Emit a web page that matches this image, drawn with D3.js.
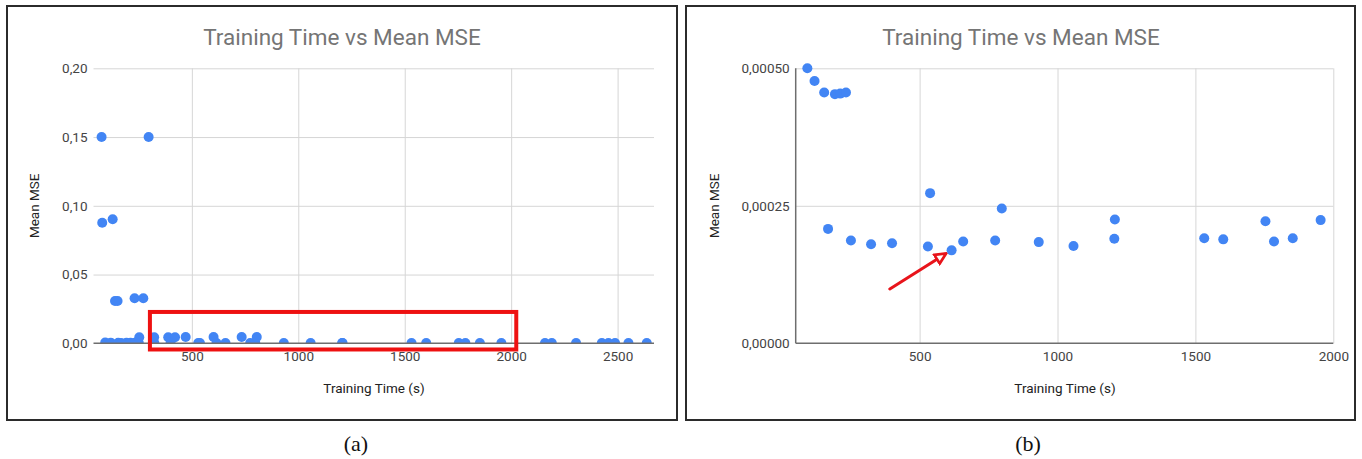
<!DOCTYPE html>
<html>
<head>
<meta charset="utf-8">
<script src="https://cdn.jsdelivr.net/npm/d3@7"></script>
<style>
  html, body { margin: 0; padding: 0; background: #fff; }
  svg { display: block; }
</style>
</head>
<body>
<svg id="chart" width="1362" height="459"></svg>
<script>
// ---- Data ----
// Panel (b): zoomed view, points with Mean MSE < 0.0005
const timeB = [93, 119, 154, 193, 212, 233, 168, 251, 324, 400, 530, 538, 616, 658, 774, 798,
               932, 1058, 1208, 1206, 1532, 1601, 1754, 1785, 1853, 1954];
const mseB  = [0.000500, 0.000477, 0.000456, 0.000453, 0.000454, 0.000456, 0.000208, 0.000187,
               0.000180, 0.000182, 0.000176, 0.000273, 0.000169, 0.000185, 0.000187, 0.000245,
               0.000184, 0.000177, 0.000225, 0.000190, 0.000191, 0.000189, 0.000222, 0.000185,
               0.000191, 0.000224];
// Panel (a): extra points beyond the zoomed range
const timeAExtra = [76, 297, 79, 128, 139, 151, 231, 272,
                    253, 323, 389, 421, 471, 602, 734, 805,
                    2159, 2191, 2305, 2426, 2457, 2488, 2551, 2637];
const mseAExtra  = [0.150, 0.150, 0.0877, 0.0902, 0.0308, 0.0308, 0.0327, 0.0327,
                    0.0044, 0.0044, 0.0044, 0.0044, 0.0046, 0.0046, 0.0046, 0.0046,
                    0.0002, 0.0002, 0.0002, 0.0002, 0.0002, 0.0002, 0.0002, 0.0002];

const xTicksA = [500, 1000, 1500, 2000, 2500];
const yTicksA = [0, 0.05, 0.10, 0.15, 0.20];
const xTicksB = [500, 1000, 1500, 2000];
const yTicksB = [0, 0.00025, 0.0005];

const titleText = "Training Time vs Mean MSE";
const xLabel = "Training Time (s)";
const yLabel = "Mean MSE";
const captions = ["(a)", "(b)"];

// Annotations (in data units)
const boxA = { x0: 303, x1: 2024, y0: -0.0045, y1: 0.0228 };
const arrowB = { x0: 392, y0: 0.0000987, x1: 592, y1: 0.000162 };

// ---- Drawing ----
const svg = d3.select("#chart");
const blue = "#4285f4";
const sans = "Roboto, 'Noto Sans', Arial, sans-serif";

const panels = [
  {
    frame: { x: 7, y: 6, w: 670, h: 414 },
    plot: { left: 93.5, right: 654, top: 68.3, bottom: 343.3 },
    xDomain: [38, 2671], yDomain: [0, 0.20],
    xTicks: xTicksA, yTicks: yTicksA, yDec: 2,
    times: timeB.concat(timeAExtra), mses: mseB.concat(mseAExtra),
    leftAxis: false,
    titleX: 342, xLabelX: 374, yLabelX: 34, caption: captions[0], captionX: 356
  },
  {
    frame: { x: 686, y: 6, w: 669, h: 414 },
    plot: { left: 795.7, right: 1333.3, top: 68.3, bottom: 343.3 },
    xDomain: [50.7, 2000], yDomain: [0, 0.0005],
    xTicks: xTicksB, yTicks: yTicksB, yDec: 5,
    times: timeB, mses: mseB,
    leftAxis: true,
    titleX: 1021, xLabelX: 1065, yLabelX: 714, caption: captions[1], captionX: 1028
  }
];

const defs = svg.append("defs");
defs.append("marker")
  .attr("id", "arrowhead")
  .attr("viewBox", "0 0 10 10")
  .attr("refX", 8).attr("refY", 5)
  .attr("markerWidth", 4.5).attr("markerHeight", 4.5)
  .attr("orient", "auto")
  .append("path")
  .attr("d", "M1,1.2 L9,5 L1,8.8 Z")
  .attr("fill", "#fff")
  .attr("stroke", "#e8141b")
  .attr("stroke-width", 2);

panels.forEach((p, i) => {
  const g = svg.append("g");
  const x = d3.scaleLinear().domain(p.xDomain).range([p.plot.left, p.plot.right]);
  const y = d3.scaleLinear().domain(p.yDomain).range([p.plot.bottom, p.plot.top]);
  const fmt = v => d3.format("." + p.yDec + "f")(v).replace(".", ",");

  // frame
  g.append("rect")
    .attr("x", p.frame.x).attr("y", p.frame.y)
    .attr("width", p.frame.w).attr("height", p.frame.h)
    .attr("fill", "#fff").attr("stroke", "#2b2b2b").attr("stroke-width", 2);

  // title
  g.append("text")
    .attr("x", p.titleX).attr("y", 45)
    .attr("text-anchor", "middle")
    .style("font-family", sans)
    .attr("font-size", 22.5).attr("fill", "#757575")
    .text(titleText);

  // horizontal gridlines
  g.append("g")
    .attr("transform", `translate(${p.plot.left},0)`)
    .call(d3.axisLeft(y).tickValues(p.yTicks.filter(v => v !== 0))
      .tickSize(-(p.plot.right - p.plot.left)).tickFormat(""))
    .call(a => a.select(".domain").remove())
    .call(a => a.selectAll("line").attr("stroke", "#d6d6d6").attr("stroke-width", 1));

  // vertical gridlines
  g.append("g")
    .attr("transform", `translate(0,${p.plot.bottom})`)
    .call(d3.axisBottom(x).tickValues(p.xTicks)
      .tickSize(-(p.plot.bottom - p.plot.top)).tickFormat(""))
    .call(a => a.select(".domain").remove())
    .call(a => a.selectAll("line").attr("stroke", "#d6d6d6").attr("stroke-width", 1));

  // x tick labels
  g.append("g")
    .attr("transform", `translate(0,${p.plot.bottom})`)
    .call(d3.axisBottom(x).tickValues(p.xTicks).tickSize(0).tickPadding(8).tickFormat(d3.format("d")))
    .call(a => a.select(".domain").remove())
    .call(a => a.selectAll("text").attr("font-size", 13.5).attr("fill", "#444")
      .style("font-family", sans));

  // y tick labels
  g.append("g")
    .attr("transform", `translate(${p.plot.left},0)`)
    .call(d3.axisLeft(y).tickValues(p.yTicks).tickSize(0).tickPadding(6).tickFormat(fmt))
    .call(a => a.select(".domain").remove())
    .call(a => a.selectAll("text").attr("font-size", 13.5).attr("fill", "#444")
      .style("font-family", sans));

  // points (clipped to plot area)
  const clipId = "clip" + i;
  defs.append("clipPath").attr("id", clipId)
    .append("rect")
    .attr("x", p.plot.left - 6).attr("y", p.plot.top - 6)
    .attr("width", p.plot.right - p.plot.left + 12)
    .attr("height", p.plot.bottom - p.plot.top + 6);

  const pts = p.times.map((t, k) => ({ t, m: p.mses[k] }));
  g.append("g").attr("clip-path", `url(#${clipId})`)
    .selectAll("circle").data(pts).join("circle")
    .attr("cx", d => x(d.t)).attr("cy", d => y(d.m))
    .attr("r", 5).attr("fill", blue);

  // baseline axis
  g.append("line")
    .attr("x1", p.plot.left).attr("x2", p.plot.right)
    .attr("y1", p.plot.bottom).attr("y2", p.plot.bottom)
    .attr("stroke", "#6e6e6e").attr("stroke-width", 1.5);
  if (p.leftAxis) {
    g.append("line")
      .attr("x1", p.plot.left).attr("x2", p.plot.left)
      .attr("y1", p.plot.top).attr("y2", p.plot.bottom)
      .attr("stroke", "#6e6e6e").attr("stroke-width", 1.5);
  }

  // axis titles
  g.append("text")
    .attr("x", p.xLabelX).attr("y", 393)
    .attr("text-anchor", "middle").attr("font-size", 13.5).attr("fill", "#222")
    .style("font-family", sans)
    .text(xLabel);
  g.append("text")
    .attr("transform", `translate(${p.yLabelX},${(p.plot.top + p.plot.bottom) / 2}) rotate(-90)`)
    .attr("text-anchor", "middle").attr("font-size", 13.5).attr("fill", "#222")
    .style("font-family", sans)
    .attr("dy", "0.35em")
    .text(yLabel);

  // caption
  g.append("text")
    .attr("x", p.captionX).attr("y", 451)
    .attr("text-anchor", "middle")
    .style("font-family", "'Liberation Serif', 'DejaVu Serif', serif")
    .attr("font-size", 22).attr("fill", "#111")
    .text(p.caption);

  // annotations
  if (i === 0) {
    g.append("rect")
      .attr("x", x(boxA.x0)).attr("y", y(boxA.y1))
      .attr("width", x(boxA.x1) - x(boxA.x0))
      .attr("height", y(boxA.y0) - y(boxA.y1))
      .attr("fill", "none").attr("stroke", "#ee1111").attr("stroke-width", 4);
  } else {
    g.append("line")
      .attr("x1", x(arrowB.x0)).attr("y1", y(arrowB.y0))
      .attr("x2", x(arrowB.x1)).attr("y2", y(arrowB.y1))
      .attr("stroke", "#e8141b").attr("stroke-width", 3)
      .attr("stroke-linecap", "round")
      .attr("marker-end", "url(#arrowhead)");
  }
});
</script>
</body>
</html>
